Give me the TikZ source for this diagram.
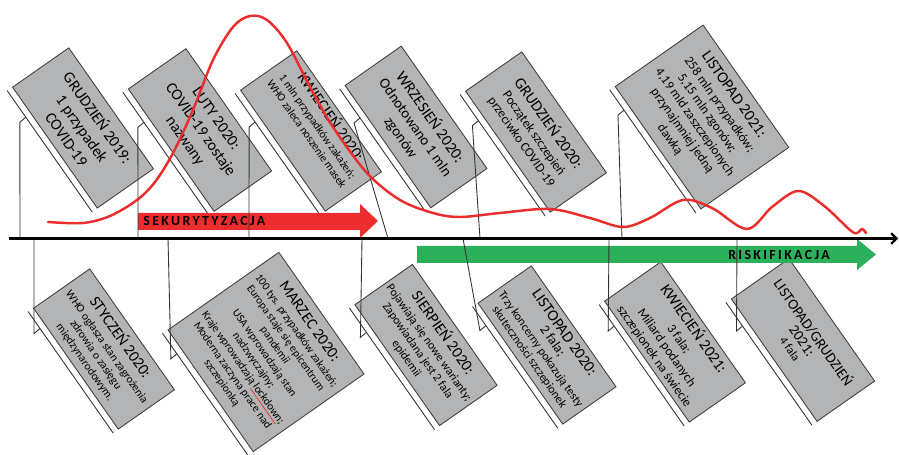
\documentclass[tikz,border=0pt]{standalone}
\usepackage{fontspec}
\setmainfont{Carlito}
\newfontfamily\bandfont[LetterSpace=17]{Carlito}
\usetikzlibrary{calc,arrows.meta}

\definecolor{boxgray}{RGB}{179,180,182}
\definecolor{secred}{RGB}{235,45,45}
\definecolor{riskgreen}{RGB}{44,176,92}

\newcommand\hd[1]{{\fontsize{9}{10.4}\selectfont #1}}

\tikzset{
  event/.style={draw=black!75, fill=boxgray, line width=0.5pt, rotate=-55, inner sep=1pt,
    align=center, minimum width=84pt, minimum height=39pt},
  rail/.style={draw=black!80, line width=0.5pt},
  pin/.style={draw=black!80, line width=0.5pt},
  band/.style={font=\bandfont\bfseries\fontsize{7.9}{9}\selectfont, inner sep=0pt},
  wave/.style={draw=secred, line width=1.4pt, line cap=round, line join=round},
}

\begin{document}
\begin{tikzpicture}[x=0.02cm, y=-0.02cm]
\useasboundingbox (0,0) rectangle (899,455);

% events above the axis
\node[event, font=\fontsize{9}{10.8}\selectfont] (g19) at (83,128) {GRUDZIEŃ 2019:\\1 przypadek\\COVID-19};
\node[event, minimum width=85pt, minimum height=40pt, font=\fontsize{9}{10.8}\selectfont] (lut20) at (200,130) {LUTY 2020:\\COVID-19 zostaje\\nazwany};
\node[event, font=\fontsize{6.4}{7.5}\selectfont] (kwi20) at (311,131) {\hd{KWIECIEŃ 2020:}\\[1pt]1 mln przypadków zakażeń;\\WHO zaleca noszenie masek\\[6pt]\mbox{}};
\node[event, minimum width=85pt, font=\fontsize{8.4}{10}\selectfont] (wrz20) at (416,127) {\hd{WRZESIEŃ 2020:}\\Odnotowano 1 mln\\zgonów};
\node[event, font=\fontsize{7.4}{8.6}\selectfont] (gru20) at (536,132) {\hd{GRUDZIEŃ 2020:}\\[1pt]Początek szczepień\\przeciwko COVID-19};
\node[event, minimum width=85pt, minimum height=61pt, font=\fontsize{7.4}{8.6}\selectfont] (lis21) at (702,117) {\hd{LISTOPAD 2021:}\\[1pt]258 mln przypadków;\\5,15 mln zgonów;\\4,19 mld zaszczepionych\\przynajmniej jedną\\dawką};

% events below the axis
\node[event, font=\fontsize{6.5}{7.6}\selectfont] (sty20) at (104,349) {\hd{STYCZEŃ 2020:}\\[1pt]WHO ogłasza stan zagrożenia\\zdrowia o zasięgu\\międzynarodowym.};
\node[event, minimum width=84.5pt, minimum height=77pt, font=\fontsize{6.4}{7.4}\selectfont] (mar20) at (266,352) {\hd{MARZEC 2020:}\\[1pt]100 tys. przypadków zakażeń;\\Europa staje się epicentrum\\pandemii\\USA wprowadzają stan\\nadzwyczajny;\\Kraje wprowadzają {\color{secred}\underline{\color{black}lockdown}};\\Moderna zaczyna prace nad\\szczepionką};
\node[event, minimum height=40pt, font=\fontsize{6.8}{7.9}\selectfont] (sie20) at (426,345) {\hd{SIERPIEŃ 2020:}\\[1pt]Pojawiają się nowe warianty;\\Zapowiadana jest 2 fala\\epidemii};
\node[event, minimum height=37pt, font=\fontsize{6.8}{7.9}\selectfont] (lis20) at (547,345) {\hd{LISTOPAD 2020:}\\{\fontsize{7.8}{8.7}\selectfont 2 fala;}\\Trzy koncerny pokazują testy\\skuteczności szczepionek};
\node[event, font=\fontsize{7.4}{8.6}\selectfont] (kwi21) at (675,342) {\hd{KWIECIEŃ 2021:}\\[1pt]3 fala;\\Miliard podanych\\szczepionek na świecie};
\node[event, minimum width=85pt, minimum height=40pt, font=\fontsize{6.8}{7.9}\selectfont] (lg21) at (803,340) {{\fontsize{8.4}{9.8}\selectfont LISTOPAD/GRUDZIEŃ}\\{\fontsize{8.4}{9.8}\selectfont 2021:}\\4 fala};

% rails along the lower edge of each box
\foreach \ev in {g19,lut20,kwi20,wrz20,gru20,lis21,sty20,mar20,sie20,lis20,kwi21,lg21}{
  \coordinate (\ev-a) at ($(\ev.south west)!3.4pt!-90:(\ev.south east)$);
  \coordinate (\ev-b) at ($(\ev.south east)!3.4pt!90:(\ev.south west)$);
  \draw[rail] (\ev-a) -- (\ev-b);
}

% phase arrows
\fill[secred] (138,213) -- (360,213) -- (360,204) -- (378,221) -- (360,238) -- (360,230) -- (138,230) -- cycle;
\node[band, anchor=west] (sek) at (143,221.5) {SEKURYTYZACJA};
\fill[riskgreen] (417,246) -- (857,246) -- (857,239) -- (876,254.5) -- (857,270) -- (857,263) -- (417,263) -- cycle;
\node[band, anchor=east] (risk) at (830,254.5) {RISKIFIKACJA};

% pins from the axis
\foreach \ev/\f/\ax in {g19/0.22/20, lut20/0.244/138, kwi20/0.235/249, wrz20/0.237/388,
    gru20/0.215/480, lis21/0.165/622, sty20/0.14/34, mar20/0.168/168, sie20/0.2/362,
    lis20/0.157/463, kwi21/0.177/609, lg21/0.193/737}
  \draw[pin] (\ax,238.5) -- ($(\ev-a)!\f!(\ev-b)+(-6,5)$) -- ($(\ev-a)!\f!(\ev-b)$);

% time axis
\draw[line width=1.3pt, -{Straight Barb[length=3pt,width=6pt]}] (9,238.5) -- (898,238.5);

% case curve
\draw[wave] plot[smooth, tension=0.55] coordinates {(48,222) (83,223) (110,216) (137,200) (155,182)
  (173,153) (193,110) (213,60) (233,27) (250,16) (267,20) (287,43) (310,87) (333,127) (367,173)
  (400,200) (433,213) (460,217) (500,213) (550,209) (590,218) (623,227) (650,218) (683,200)
  (712,208) (747,229) (772,207) (798,191) (823,205) (850,230) (857,233) (862,229) (866,233)};
\end{tikzpicture}
\end{document}
